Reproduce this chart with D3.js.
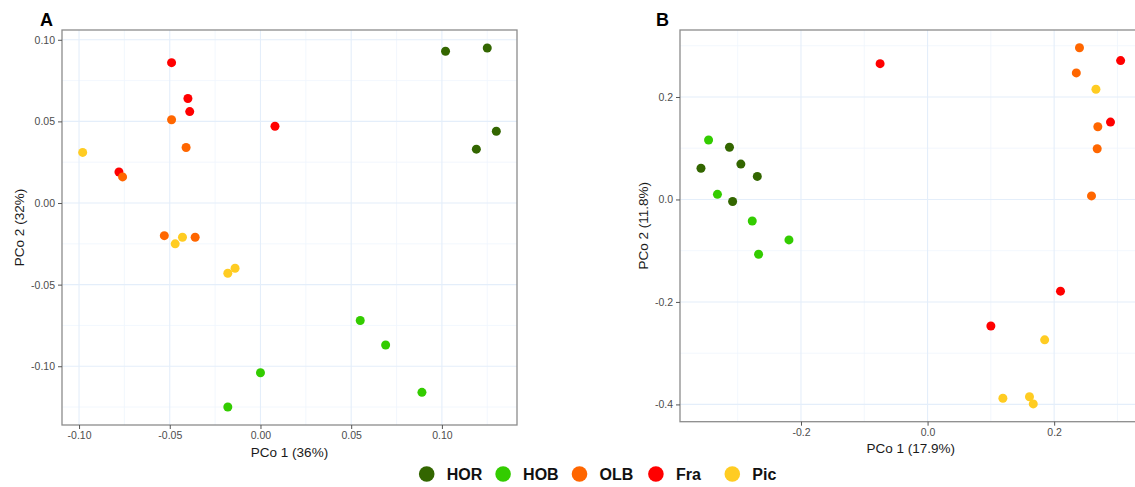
<!DOCTYPE html>
<html><head><meta charset="utf-8">
<script src="https://cdn.jsdelivr.net/npm/d3@7"></script>
<style>
body{margin:0;background:#fff;}
svg{display:block;font-family:"Liberation Sans",Arial,sans-serif;}
</style></head>
<body><svg id="c" width="1135" height="487"></svg>
<script>
const groups = ["HOR","HOB","OLB","Fra","Pic"];
const groupColors = ["#336600","#33CC00","#FF6600","#FF0000","#FFCC22"];

// Panel A points
const aGroup = ["HOR","HOR","HOR","HOR",
  "Fra","Fra","Fra","Fra","Fra",
  "OLB","OLB","OLB","OLB","OLB",
  "Pic","Pic","Pic","Pic","Pic",
  "HOB","HOB","HOB","HOB","HOB"];
const aX = [0.102,0.125,0.130,0.119,
  -0.049,-0.040,-0.039,0.008,-0.078,
  -0.049,-0.041,-0.076,-0.053,-0.036,
  -0.098,-0.043,-0.047,-0.018,-0.014,
  0.055,0.069,0.000,0.089,-0.018];
const aY = [0.093,0.095,0.044,0.033,
  0.086,0.064,0.056,0.047,0.019,
  0.051,0.034,0.016,-0.020,-0.021,
  0.031,-0.021,-0.025,-0.043,-0.040,
  -0.072,-0.087,-0.104,-0.116,-0.125];

// Panel B points
const bGroup = ["Fra","Fra","Fra","Fra","Fra",
  "OLB","OLB","OLB","OLB","OLB",
  "Pic","Pic","Pic","Pic","Pic",
  "HOR","HOR","HOR","HOR","HOR",
  "HOB","HOB","HOB","HOB","HOB"];
const bX = [-0.075,0.305,0.289,0.210,0.100,
  0.240,0.235,0.269,0.268,0.259,
  0.266,0.185,0.119,0.161,0.167,
  -0.358,-0.313,-0.295,-0.269,-0.308,
  -0.346,-0.332,-0.277,-0.219,-0.267];
const bY = [0.265,0.271,0.151,-0.179,-0.247,
  0.296,0.247,0.142,0.099,0.007,
  0.215,-0.274,-0.388,-0.385,-0.399,
  0.061,0.102,0.069,0.045,-0.004,
  0.116,0.010,-0.042,-0.079,-0.107];

const aXTicks = [-0.10,-0.05,0.00,0.05,0.10];
const aYTicks = [-0.10,-0.05,0.00,0.05,0.10];
const bXTicks = [-0.2,0.0,0.2];
const bYTicks = [-0.4,-0.2,0.0,0.2];

const svg = d3.select("#c");
const color = d3.scaleOrdinal().domain(groups).range(groupColors);

function expand(vals){
  const e = d3.extent(vals), r = e[1]-e[0];
  return [e[0]-0.05*r, e[1]+0.05*r];
}
function minors(ticks, dom){
  const step = ticks[1]-ticks[0], out=[];
  for(let v = ticks[0]-step/2; v <= dom[1]+1e-9; v += step){ if(v>=dom[0]-1e-9) out.push(v); }
  return out;
}

function panel(opt){
  const g = svg.append("g");
  const x = d3.scaleLinear().domain(expand(opt.xs)).range([opt.left,opt.right]);
  const y = d3.scaleLinear().domain(expand(opt.ys)).range([opt.bottom,opt.top]);
  const fmt = v => d3.format(opt.fmt)(v).replace("\u2212","-");
  const clipId = "clip"+opt.label;
  svg.append("clipPath").attr("id",clipId).append("rect")
    .attr("x",opt.left).attr("y",opt.top).attr("width",opt.right-opt.left).attr("height",opt.bottom-opt.top);
  const grid = g.append("g").attr("clip-path",`url(#${clipId})`);
  grid.selectAll(".mx").data(minors(opt.xt,x.domain())).join("line")
    .attr("x1",d=>x(d)).attr("x2",d=>x(d)).attr("y1",opt.top).attr("y2",opt.bottom)
    .attr("stroke","#eff5fc").attr("stroke-width",0.8);
  grid.selectAll(".my").data(minors(opt.yt,y.domain())).join("line")
    .attr("y1",d=>y(d)).attr("y2",d=>y(d)).attr("x1",opt.left).attr("x2",opt.right)
    .attr("stroke","#eff5fc").attr("stroke-width",0.8);
  grid.selectAll(".Mx").data(opt.xt).join("line")
    .attr("x1",d=>x(d)).attr("x2",d=>x(d)).attr("y1",opt.top).attr("y2",opt.bottom)
    .attr("stroke","#e4eefa").attr("stroke-width",1.1);
  grid.selectAll(".My").data(opt.yt).join("line")
    .attr("y1",d=>y(d)).attr("y2",d=>y(d)).attr("x1",opt.left).attr("x2",opt.right)
    .attr("stroke","#e4eefa").attr("stroke-width",1.1);

  g.append("rect").attr("x",opt.left).attr("y",opt.top)
    .attr("width",opt.right-opt.left).attr("height",opt.bottom-opt.top)
    .attr("fill","none").attr("stroke","#8c8c8c").attr("stroke-width",1.3);

  const xa = g.append("g").attr("transform",`translate(0,${opt.bottom})`)
    .call(d3.axisBottom(x).tickValues(opt.xt).tickFormat(fmt).tickSize(4).tickPadding(3));
  const ya = g.append("g").attr("transform",`translate(${opt.left},0)`)
    .call(d3.axisLeft(y).tickValues(opt.yt).tickFormat(fmt).tickSize(4).tickPadding(3));
  [xa,ya].forEach(a=>{
    a.select(".domain").remove();
    a.selectAll("line").attr("stroke","#555");
    a.selectAll("text").attr("fill","#4d4d4d").style("font-size","10.5px").style("font-family","'Liberation Sans',Arial,sans-serif");
  });

  g.append("g").attr("clip-path",`url(#${clipId})`).selectAll("circle")
    .data(d3.range(opt.xs.length)).join("circle")
    .attr("cx",i=>x(opt.xs[i])).attr("cy",i=>y(opt.ys[i])).attr("r",4.5)
    .attr("fill",i=>color(opt.gs[i]));

  g.append("text").attr("x",(opt.left+opt.right)/2).attr("y",opt.xTitleY)
    .attr("text-anchor","middle").style("font-size","13.5px").attr("fill","#1a1a1a").text(opt.xTitle);
  g.append("text").attr("transform",`translate(${opt.yTitleX},${(opt.top+opt.bottom)/2}) rotate(-90)`)
    .attr("text-anchor","middle").style("font-size","13.5px").attr("fill","#1a1a1a").text(opt.yTitle);
  g.append("text").attr("x",opt.labelX).attr("y",26).style("font-size","18px").style("font-weight","bold")
    .attr("fill","#000").text(opt.label);
}

panel({label:"A",labelX:40,left:62,right:517,top:30,bottom:425,xs:aX,ys:aY,gs:aGroup,
  xt:aXTicks,yt:aYTicks,fmt:".2f",xTitle:"PCo 1 (36%)",yTitle:"PCo 2 (32%)",xTitleY:456.5,yTitleX:24});
panel({label:"B",labelX:656,left:680,right:1141.6,top:30,bottom:421.7,xs:bX,ys:bY,gs:bGroup,
  xt:bXTicks,yt:bYTicks,fmt:".1f",xTitle:"PCo 1 (17.9%)",yTitle:"PCo 2 (11.8%)",xTitleY:453,yTitleX:648});

// Legend
const lx = d3.scalePoint().domain(groups).range([426.7,732.3]);
const leg = svg.append("g");
leg.selectAll("circle").data(groups).join("circle")
  .attr("cx",d=>lx(d)).attr("cy",474).attr("r",7.8).attr("fill",d=>color(d));
leg.selectAll("text").data(groups).join("text")
  .attr("x",d=>lx(d)+20).attr("y",479.8)
  .style("font-size","16px").style("font-weight","bold").attr("fill","#111").text(d=>d);
</script></body></html>
